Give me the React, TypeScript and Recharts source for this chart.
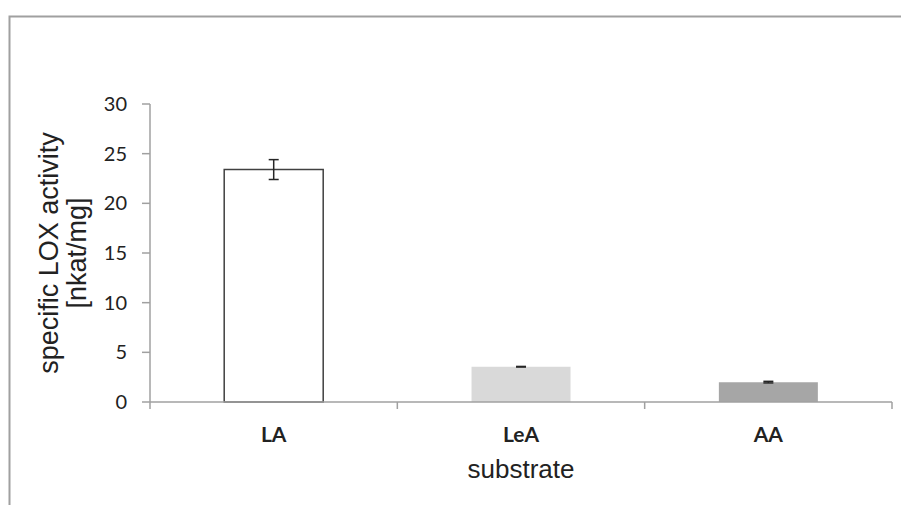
import React from 'react';
import { BarChart, Bar, XAxis, YAxis, Cell, ErrorBar } from 'recharts';

// substrate categories and specific activity (nkat/mg)
const categories = ['LA', 'LeA', 'AA'];
const activity = [23.4, 3.55, 2.0];
const activityError = [1.0, 0.03, 0.08];
const yTicks = [0, 5, 10, 15, 20, 25, 30];

const barFills = ['#ffffff', '#d9d9d9', '#a6a6a6'];
const barStrokes = ['#404040', 'none', 'none'];

const data = categories.map((name, i) => ({
    name,
    value: activity[i],
    err: activityError[i],
}));

const AXIS = '#a0a0a0';
const TEXT = '#222222';
const NUM_FONT = 'Lato, "Open Sans", sans-serif';
const LABEL_FONT = '"Liberation Sans", Arial, sans-serif';

// category label plus the small tick marks on the band edges (Excel style)
const CategoryTick = (props: any) => {
    const { x, y, payload, index } = props;
    const half = payload?.offset ?? 0;
    return (
        <g>
            <line x1={x - half} x2={x - half} y1={y} y2={y + 7} stroke={AXIS} strokeWidth={1.5} />
            {index === categories.length - 1 && (
                <line x1={x + half} x2={x + half} y1={y} y2={y + 7} stroke={AXIS} strokeWidth={1.5} />
            )}
            <text x={x} y={y + 40} textAnchor="middle" fontFamily={NUM_FONT} fontWeight={700} fontSize={21} fill={TEXT}>
                {payload.value}
            </text>
        </g>
    );
};

const XLabel = (props: any) => {
    const vb = props.viewBox;
    return (
        <text x={vb.x + vb.width / 2} y={vb.y + 76} textAnchor="middle" fontFamily={LABEL_FONT} fontSize={26} fill={TEXT}>
            substrate
        </text>
    );
};

const YLabel = (props: any) => {
    const vb = props.viewBox;
    const cy = vb.y + vb.height / 2;
    const x1 = vb.x - 32;
    const x2 = vb.x - 4;
    return (
        <g fontFamily={LABEL_FONT} fontSize={27} fill={TEXT}>
            <text x={x1} y={cy} textAnchor="middle" transform={`rotate(-90, ${x1}, ${cy})`}>
                specific LOX activity
            </text>
            <text x={x2} y={cy} textAnchor="middle" transform={`rotate(-90, ${x2}, ${cy})`}>
                [nkat/mg]
            </text>
        </g>
    );
};

export default function App() {
    return (
        <div style={{ position: 'absolute', left: 0, top: 0, width: 901, height: 505, overflow: 'hidden', background: '#fff' }}>
            {/* outer chart frame, only top and left edges are in view */}
            <svg width={901} height={505} style={{ position: 'absolute', left: 0, top: 0 }}>
                <path d="M9.5,505 V16.5 H901" fill="none" stroke={AXIS} strokeWidth={2} />
            </svg>
            <div style={{ position: 'absolute', left: 0, top: 0 }}>
                <BarChart
                    width={901}
                    height={505}
                    data={data}
                    margin={{ top: 104, right: 9, bottom: 63, left: 90 }}
                    barCategoryGap="30%"
                >
                    <XAxis
                        dataKey="name"
                        height={40}
                        interval={0}
                        axisLine={{ stroke: AXIS, strokeWidth: 1.5 }}
                        tickLine={false}
                        tickSize={0}
                        tickMargin={0}
                        tick={<CategoryTick />}
                        label={(p: any) => <XLabel {...p} />}
                    />
                    <YAxis
                        width={60}
                        domain={[0, 30]}
                        ticks={yTicks}
                        interval={0}
                        axisLine={{ stroke: AXIS, strokeWidth: 1.5 }}
                        tickLine={{ stroke: AXIS, strokeWidth: 1.5 }}
                        tickSize={8}
                        tickMargin={15}
                        tick={{ fill: TEXT, fontSize: 20, fontFamily: NUM_FONT }}
                        label={(p: any) => <YLabel {...p} />}
                    />
                    <Bar dataKey="value" isAnimationActive={false}>
                        {data.map((d, i) => (
                            <Cell
                                key={d.name}
                                fill={barFills[i]}
                                stroke={barStrokes[i]}
                                strokeWidth={barStrokes[i] === 'none' ? 0 : 1.5}
                            />
                        ))}
                        <ErrorBar dataKey="err" width={5} stroke="#262626" strokeWidth={1.5} isAnimationActive={false} />
                    </Bar>
                </BarChart>
            </div>
        </div>
    );
}
